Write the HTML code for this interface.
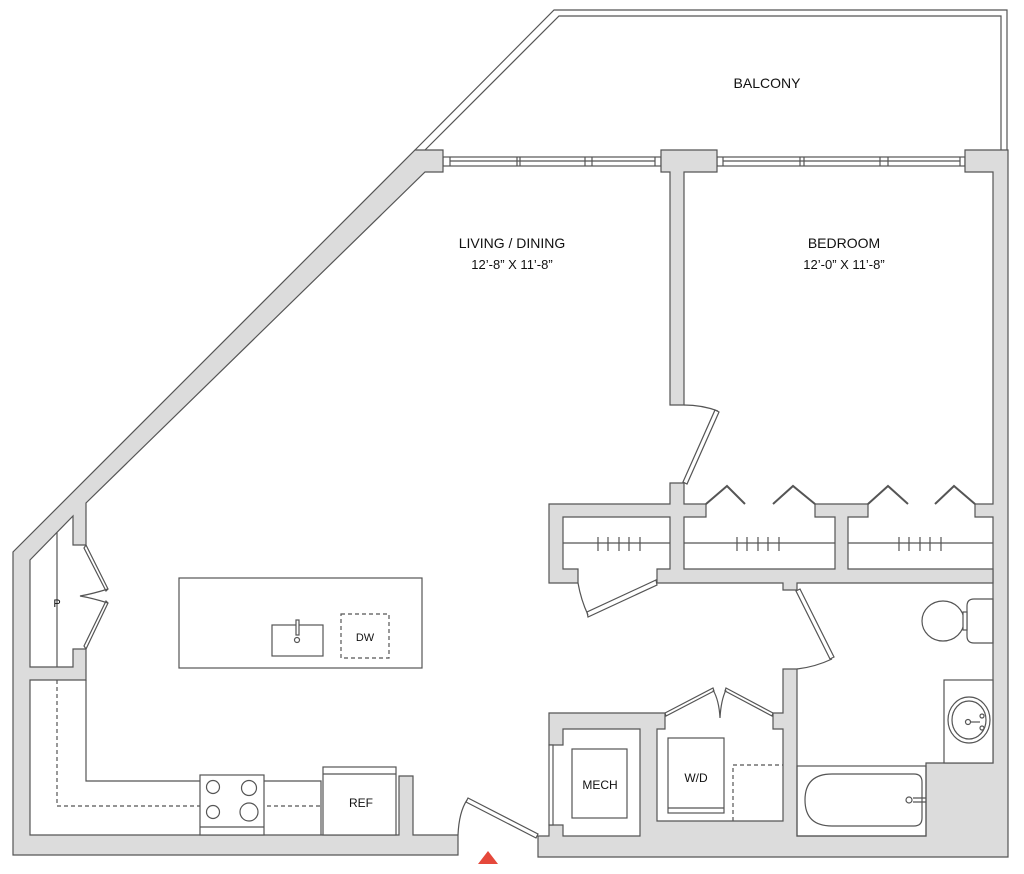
<!DOCTYPE html>
<html><head><meta charset="utf-8"><style>
html,body{margin:0;padding:0;background:#fff;}
svg{display:block;}
text{font-family:"Liberation Sans",sans-serif;fill:#111;}
</style></head><body>
<svg width="1024" height="874" viewBox="0 0 1024 874" xmlns="http://www.w3.org/2000/svg">
<g fill="none" stroke="#555" stroke-width="1.2">
<!-- balcony rail -->
<polyline points="415,150 554,10 1007,10 1007,150"/>
<polyline points="425,150 559,16 1001,16 1001,150"/>
<!-- windows -->
<rect x="443" y="157" width="218" height="9" fill="#fff"/>
<line x1="450" y1="161" x2="655" y2="161"/>
<line x1="450" y1="157" x2="450" y2="166"/><line x1="655" y1="157" x2="655" y2="166"/>
<line x1="517" y1="157" x2="517" y2="166"/><line x1="520" y1="157" x2="520" y2="166"/>
<line x1="585" y1="157" x2="585" y2="166"/><line x1="592" y1="157" x2="592" y2="166"/>
<rect x="717" y="157" width="248" height="9" fill="#fff"/>
<line x1="723" y1="161" x2="960" y2="161"/>
<line x1="723" y1="157" x2="723" y2="166"/><line x1="960" y1="157" x2="960" y2="166"/>
<line x1="800" y1="157" x2="800" y2="166"/><line x1="804" y1="157" x2="804" y2="166"/>
<line x1="880" y1="157" x2="880" y2="166"/><line x1="888" y1="157" x2="888" y2="166"/>
</g>
<g fill="#dcdcdc" stroke="#555" stroke-width="1.2" stroke-linejoin="miter">
<polygon points="13,855 13,552 415,150 443,150 443,172 425,172 86,503 86,545 73,545 73,516 30,560 30,667 73,667 73,649 86,649 86,680 30,680 30,835 399,835 399,776 413,776 413,835 458,835 458,855"/>
<polygon points="661,150 717,150 717,172 684,172 684,405 670,405 670,172 661,172"/>
<polygon points="965,150 1008,150 1008,857 538,857 538,836 549,836 549,825 563,825 563,836 640,836 640,729 563,729 563,745 549,745 549,713 665,713 665,729 657,729 657,821 783,821 783,729 773,729 773,713 783,713 783,669 797,669 797,836 926,836 926,763 993,763 993,517 975,517 975,504 993,504 993,172 965,172"/>
<polygon points="549,504 670,504 670,483 684,483 684,504 706,504 706,517 684,517 684,569 835,569 835,517 815,517 815,504 868,504 868,517 848,517 848,569 993,569 993,583 797,583 797,590 783,590 783,583 657,583 657,569 670,569 670,517 563,517 563,569 578,569 578,583 549,583"/>
</g>
<g fill="none" stroke="#555" stroke-width="1.2">
<!-- bedroom door -->
<polygon points="683,482 715,410 719,412 687,484" fill="#fff"/>
<path d="M684,405 Q702,405 718,411"/>
<!-- closet bifolds -->
<polyline points="706,504 727,486 745,504" stroke-width="2"/>
<polyline points="773,504 793,486 815,504" stroke-width="2"/>
<polyline points="868,504 888,486 908,504" stroke-width="2"/>
<polyline points="935,504 954,486 975,504" stroke-width="2"/>
<!-- rods -->
<line x1="563" y1="543" x2="670" y2="543"/>
<line x1="684" y1="543" x2="835" y2="543"/>
<line x1="848" y1="543" x2="993" y2="543"/>
<path d="M598,537v14M608,537v14M619,537v14M629,537v14M640,537v14"/>
<path d="M737,537v14M747,537v14M758,537v14M768,537v14M779,537v14"/>
<path d="M899,537v14M909,537v14M920,537v14M930,537v14M941,537v14"/>
<!-- closet1 door -->
<polygon points="656,580 657,585 588,617 587,612" fill="#fff"/>
<path d="M578,583 Q581,600 588,615"/>
<!-- bath door -->
<polygon points="796,591 800,589 834,657 830,659" fill="#fff"/>
<path d="M832,659 Q815,667 797,669"/>
<!-- W/D bifold -->
<polygon points="665,713 713,688 714,691 666,716" fill="#fff"/>
<polygon points="726,688 773,713 772,716 725,691" fill="#fff"/>
<path d="M713,690 Q719,700 720,718 Q721,700 726,690"/>
<!-- mech window -->
<rect x="549" y="745" width="4" height="80" fill="#fff"/>
<rect x="572" y="749" width="55" height="69"/>
<rect x="668" y="738" width="56" height="75"/>
<line x1="668" y1="808" x2="724" y2="808"/>
<path d="M733,821 V765 H783" stroke-dasharray="4,3"/>
<!-- tub -->
<rect x="797" y="766" width="129" height="70"/>
<path d="M832,774 H914 Q922,774 922,782 V818 Q922,826 914,826 H832 Q805,826 805,800 Q805,774 832,774 Z"/>
<circle cx="909" cy="800" r="3"/>
<path d="M913,798 H926 M913,802 H926"/>
<!-- vanity -->
<rect x="944" y="680" width="49" height="83" fill="#fff"/>
<ellipse cx="969" cy="720" rx="21" ry="23"/>
<ellipse cx="969" cy="720" rx="17" ry="19"/>
<circle cx="968" cy="722" r="2.5"/>
<path d="M970,722 H980"/>
<circle cx="982" cy="716" r="2"/><circle cx="982" cy="728" r="2"/>
<!-- toilet -->
<path d="M993,599 H974 Q967,599 967,606 V636 Q967,643 974,643 H993 Z"/>
<ellipse cx="943" cy="621" rx="21" ry="20"/>
<rect x="963" y="612" width="4" height="18" fill="#fff"/>
<!-- entry door -->
<polygon points="468,798 538,834 536,838 466,802" fill="#fff"/>
<path d="M458,835 Q459,812 467,800"/>
<!-- pantry -->
<line x1="57" y1="532" x2="57" y2="667"/>
<polygon points="86,545 108,589 106,591 84,548" fill="#fff"/>
<polygon points="84,646 106,601 108,603 86,649" fill="#fff"/>
<path d="M108,589 Q92,594 80,596 Q92,598 108,603"/>
<!-- kitchen counter -->
<polyline points="86,680 86,781 200,781"/>
<polyline points="264,781 321,781 321,835"/>
<path d="M57,680 V806 H321" stroke-dasharray="4,3"/>
<rect x="200" y="775" width="64" height="60" fill="#fff"/>
<line x1="200" y1="827" x2="264" y2="827"/>
<circle cx="213" cy="787" r="6.5"/><circle cx="249" cy="788" r="7.5"/>
<circle cx="213" cy="812" r="6.5"/><circle cx="249" cy="812" r="9"/>
<rect x="323" y="767" width="73" height="68" fill="#fff"/>
<line x1="323" y1="774" x2="396" y2="774"/>
<!-- island -->
<rect x="179" y="578" width="243" height="90"/>
<rect x="272" y="625" width="51" height="31"/>
<rect x="296" y="620" width="3" height="15" fill="#fff"/>
<circle cx="297" cy="640" r="2.5"/>
<rect x="341" y="614" width="48" height="44" stroke-dasharray="4,3"/>
</g>
<polygon points="478,864 498,864 488,851" fill="#e5483b"/>
<g font-size="14" text-anchor="middle">
<text x="767" y="88">BALCONY</text>
<text x="512" y="248">LIVING / DINING</text>
<text x="512" y="269" font-size="13">12’-8” X 11’-8”</text>
<text x="844" y="248">BEDROOM</text>
<text x="844" y="269" font-size="13">12’-0” X 11’-8”</text>
<text x="600" y="789" font-size="12">MECH</text>
<text x="696" y="782" font-size="12">W/D</text>
<text x="361" y="807" font-size="12">REF</text>
<text x="365" y="641" font-size="11">DW</text>
<text x="57" y="607" font-size="11">P</text>
</g>
</svg>
</body></html>
